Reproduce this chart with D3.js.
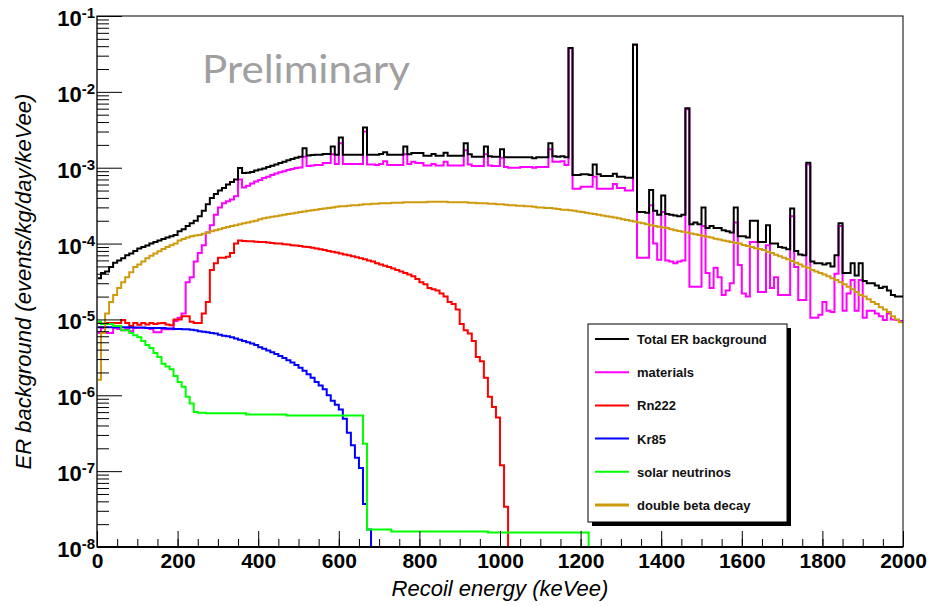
<!DOCTYPE html>
<html>
<head>
<meta charset="utf-8">
<script src="https://cdn.jsdelivr.net/npm/d3@7"></script>
<style>
body { margin: 0; background: #fff; }
text { font-family: "Liberation Sans", Arial, Helvetica, sans-serif; }
</style>
</head>
<body>
<svg id="chart" width="930" height="606"></svg>
<script>
// histogram binning (keVee)
var binWidth = 10;
var xMin = 0, xMax = 2000;
var yMin = 1e-8, yMax = 1e-1;

var seriesNames = ["Total ER background", "materials", "Rn222", "Kr85", "solar neutrinos", "double beta decay"];

// bin contents, events/kg/day/keVee, one value per 10 keV bin (missing bins = empty)
var totalER = [
 3.5e-5, 4.1e-5, 4.3e-5, 4.9e-5, 5.6e-5, 6.0e-5, 6.4e-5, 7.0e-5, 7.4e-5, 8.0e-5,
 8.6e-5, 9.0e-5, 9.4e-5, 1.0e-4, 1.05e-4, 1.1e-4, 1.15e-4, 1.2e-4, 1.25e-4, 1.3e-4,
 1.45e-4, 1.55e-4, 1.7e-4, 1.85e-4, 2.0e-4, 2.3e-4, 2.7e-4, 3.3e-4, 4.0e-4, 4.5e-4,
 5.0e-4, 5.4e-4, 6.0e-4, 6.5e-4, 7.0e-4, 9.9e-4, 8.5e-4, 8.6e-4, 8.8e-4, 9.2e-4,
 9.5e-4, 9.8e-4, 1.02e-3, 1.06e-3, 1.1e-3, 1.15e-3, 1.2e-3, 1.25e-3, 1.3e-3, 1.35e-3,
 1.4e-3, 1.8e-3, 1.45e-3, 1.47e-3, 1.48e-3, 1.48e-3, 1.52e-3, 1.52e-3, 1.9e-3, 1.48e-3,
 2.5e-3, 1.48e-3, 1.48e-3, 1.48e-3, 1.48e-3, 1.48e-3, 3.4e-3, 1.48e-3, 1.48e-3, 1.48e-3,
 1.52e-3, 1.6e-3, 1.48e-3, 1.48e-3, 1.48e-3, 1.48e-3, 1.9e-3, 1.5e-3, 1.56e-3, 1.56e-3,
 1.56e-3, 1.44e-3, 1.44e-3, 1.52e-3, 1.44e-3, 1.44e-3, 1.58e-3, 1.44e-3, 1.44e-3, 1.44e-3,
 1.44e-3, 2.1e-3, 1.5e-3, 1.4e-3, 1.4e-3, 1.4e-3, 1.9e-3, 1.42e-3, 1.4e-3, 1.4e-3,
 1.75e-3, 1.37e-3, 1.37e-3, 1.37e-3, 1.37e-3, 1.37e-3, 1.37e-3, 1.37e-3, 1.33e-3, 1.37e-3,
 1.37e-3, 1.37e-3, 2.1e-3, 1.42e-3, 1.4e-3, 1.42e-3, 1.37e-3, 3.8e-2, 8.0e-4, 8.0e-4,
 8.2e-4, 8.2e-4, 8.0e-4, 1.1e-3, 8.2e-4, 7.8e-4, 7.8e-4, 7.8e-4, 8.3e-4, 7.6e-4,
 7.6e-4, 7.4e-4, 7.4e-4, 4.2e-2, 2.6e-4, 2.6e-4, 2.55e-4, 5.1e-4, 2.7e-4, 2.4e-4,
 4.3e-4, 2.45e-4, 2.4e-4, 2.35e-4, 2.3e-4, 2.4e-4, 6.1e-3, 1.8e-4, 1.9e-4, 1.8e-4,
 3.0e-4, 1.6e-4, 1.7e-4, 1.6e-4, 1.6e-4, 1.5e-4, 1.45e-4, 1.4e-4, 3.0e-4, 1.25e-4,
 1.25e-4, 1.2e-4, 2.0e-4, 2.0e-4, 1.05e-4, 1.05e-4, 1.75e-4, 1.0e-4, 1.0e-4, 9.0e-5,
 8.8e-5, 8.4e-5, 2.9e-4, 8.0e-5, 7.2e-5, 7.0e-5, 1.16e-3, 5.8e-5, 5.5e-5, 5.5e-5,
 5.3e-5, 5.5e-5, 5.0e-5, 7.0e-5, 1.85e-4, 4.1e-5, 4.1e-5, 5.5e-5, 3.8e-5, 5.5e-5,
 3.2e-5, 3.0e-5, 3.0e-5, 2.8e-5, 2.6e-5, 2.7e-5, 2.4e-5, 2.1e-5, 2.0e-5, 2.0e-5
];

var materials = [
 6.6e-6, 7.7e-6, 6.6e-6, 6.6e-6, 7.7e-6, 7.5e-6, 7.2e-6, 7.5e-6, 7.0e-6, 7.7e-6,
 7.7e-6, 7.7e-6, 7.7e-6, 7.5e-6, 6.8e-6, 6.8e-6, 7.4e-6, 7.4e-6, 7.4e-6, 9.5e-6,
 1.05e-5, 1.2e-5, 3.1e-5, 3.6e-5, 5.8e-5, 7.5e-5, 9.5e-5, 1.4e-4, 1.75e-4, 2.4e-4,
 3.0e-4, 3.4e-4, 3.6e-4, 3.8e-4, 4.2e-4, 7.0e-4, 5.5e-4, 5.8e-4, 6.2e-4, 6.6e-4,
 6.9e-4, 7.3e-4, 7.6e-4, 8.0e-4, 8.4e-4, 8.7e-4, 9.0e-4, 9.3e-4, 9.6e-4, 9.9e-4,
 1.01e-3, 1.4e-3, 1.05e-3, 1.07e-3, 1.09e-3, 1.09e-3, 1.15e-3, 1.15e-3, 1.5e-3, 1.12e-3,
 2.1e-3, 1.12e-3, 1.12e-3, 1.12e-3, 1.12e-3, 1.12e-3, 3.0e-3, 1.1e-3, 1.1e-3, 1.09e-3,
 1.12e-3, 1.22e-3, 1.09e-3, 1.09e-3, 1.09e-3, 1.09e-3, 1.5e-3, 1.12e-3, 1.2e-3, 1.15e-3,
 1.15e-3, 1.07e-3, 1.07e-3, 1.12e-3, 1.07e-3, 1.07e-3, 1.2e-3, 1.07e-3, 1.07e-3, 1.07e-3,
 1.07e-3, 1.7e-3, 1.1e-3, 1.05e-3, 1.05e-3, 1.05e-3, 1.5e-3, 1.07e-3, 1.05e-3, 1.05e-3,
 1.35e-3, 1.02e-3, 1.0e-3, 1.0e-3, 1.0e-3, 1.02e-3, 1.02e-3, 1.02e-3, 1.0e-3, 1.02e-3,
 1.02e-3, 1.02e-3, 1.75e-3, 1.2e-3, 1.2e-3, 1.22e-3, 1.09e-3, 3.76e-2, 5.3e-4, 5.3e-4,
 5.6e-4, 5.6e-4, 5.6e-4, 7.6e-4, 5.3e-4, 5.3e-4, 5.3e-4, 5.3e-4, 6.1e-4, 5.4e-4,
 5.4e-4, 5.0e-4, 5.0e-4, 4.15e-2, 6.5e-5, 6.5e-5, 6.5e-5, 3.2e-4, 1.0e-4, 6.1e-5,
 2.6e-4, 6.0e-5, 5.8e-5, 5.5e-5, 5.8e-5, 6.0e-5, 5.9e-3, 2.7e-5, 2.7e-5, 2.7e-5,
 1.7e-4, 4.1e-5, 2.6e-5, 4.8e-5, 3.6e-5, 2.1e-5, 2.4e-5, 3.0e-5, 1.9e-4, 5.2e-5,
 2.2e-5, 2.0e-5, 1.05e-4, 1.05e-4, 2.3e-5, 2.3e-5, 9.5e-5, 2.6e-5, 3.6e-5, 2.1e-5,
 2.1e-5, 2.1e-5, 2.3e-4, 4.9e-5, 1.8e-5, 1.8e-5, 1.1e-3, 1.05e-5, 1.05e-5, 1.15e-5,
 1.7e-5, 1.3e-5, 1.25e-5, 4.0e-5, 1.7e-4, 1.3e-5, 2.2e-5, 3.3e-5, 1.3e-5, 3.3e-5,
 1.05e-5, 1.3e-5, 1.3e-5, 1.2e-5, 1.1e-5, 9.8e-6, 1.2e-5, 1.0e-5, 9.8e-6, 9.5e-6
];

var rn222 = [
 9.0e-6, 8.8e-6, 9.0e-6, 9.0e-6, 9.0e-6, 9.0e-6, 9.8e-6, 9.0e-6, 8.2e-6, 9.0e-6,
 8.5e-6, 9.0e-6, 8.6e-6, 9.0e-6, 8.7e-6, 8.9e-6, 9.0e-6, 8.6e-6, 8.4e-6, 1.0e-5,
 1.0e-5, 1.1e-5, 1.1e-5, 9.3e-6, 9.0e-6, 9.0e-6, 1.2e-5, 1.7e-5, 4.5e-5, 5.5e-5,
 6.5e-5, 6.5e-5, 6.7e-5, 7.5e-5, 1.0e-4, 1.1e-4, 1.08e-4, 1.07e-4, 1.07e-4, 1.06e-4,
 1.05e-4, 1.05e-4, 1.03e-4, 1.02e-4, 1.0e-4, 1.0e-4, 9.8e-5, 9.7e-5, 9.5e-5, 9.4e-5,
 9.3e-5, 9.1e-5, 9.0e-5, 8.8e-5, 8.6e-5, 8.4e-5, 8.2e-5, 8.0e-5, 7.8e-5, 7.6e-5,
 7.4e-5, 7.2e-5, 7.0e-5, 6.8e-5, 6.6e-5, 6.4e-5, 6.2e-5, 6.0e-5, 5.8e-5, 5.5e-5,
 5.3e-5, 5.1e-5, 4.9e-5, 4.7e-5, 4.5e-5, 4.3e-5, 4.1e-5, 3.9e-5, 3.7e-5, 3.4e-5,
 3.1e-5, 2.9e-5, 2.6e-5, 2.5e-5, 2.4e-5, 2.2e-5, 2.0e-5, 1.7e-5, 1.6e-5, 1.35e-5,
 8.7e-6, 7.2e-6, 6.5e-6, 5.2e-6, 3.2e-6, 2.8e-6, 1.7e-6, 9.6e-7, 7.0e-7, 5.1e-7,
 1.2e-7, 3.4e-8
];

var kr85 = [
 7.9e-6, 7.9e-6, 7.9e-6, 7.9e-6, 7.9e-6, 7.9e-6, 7.9e-6, 7.9e-6, 7.8e-6, 7.8e-6,
 7.8e-6, 7.8e-6, 7.7e-6, 7.7e-6, 7.7e-6, 7.7e-6, 7.7e-6, 7.6e-6, 7.6e-6, 7.5e-6,
 7.5e-6, 7.4e-6, 7.4e-6, 7.3e-6, 7.2e-6, 7.0e-6, 6.9e-6, 6.8e-6, 6.6e-6, 6.5e-6,
 6.3e-6, 6.1e-6, 6.0e-6, 5.8e-6, 5.6e-6, 5.4e-6, 5.2e-6, 5.0e-6, 4.8e-6, 4.6e-6,
 4.3e-6, 4.1e-6, 3.9e-6, 3.7e-6, 3.5e-6, 3.3e-6, 3.1e-6, 2.9e-6, 2.7e-6, 2.5e-6,
 2.3e-6, 2.1e-6, 1.9e-6, 1.7e-6, 1.5e-6, 1.35e-6, 1.2e-6, 1.0e-6, 8.5e-7, 7.5e-7,
 6.5e-7, 4.9e-7, 3.2e-7, 2.2e-7, 1.5e-7, 1.1e-7, 3.7e-8, 1.7e-8
];

var solarNu = [
 9.3e-6, 8.7e-6, 8.7e-6, 8.7e-6, 8.2e-6, 8.2e-6, 7.2e-6, 7.2e-6, 6.6e-6, 6.2e-6,
 5.8e-6, 5.2e-6, 4.6e-6, 4.2e-6, 3.6e-6, 3.2e-6, 2.6e-6, 2.4e-6, 2.2e-6, 1.8e-6,
 1.5e-6, 1.3e-6, 9.6e-7, 7.8e-7, 6.0e-7, 5.9e-7, 5.9e-7, 5.8e-7, 5.8e-7, 5.8e-7,
 5.8e-7, 5.8e-7, 5.8e-7, 5.8e-7, 5.8e-7, 5.8e-7, 5.8e-7, 5.6e-7, 5.6e-7, 5.6e-7,
 5.6e-7, 5.6e-7, 5.6e-7, 5.6e-7, 5.6e-7, 5.6e-7, 5.6e-7, 5.4e-7, 5.4e-7, 5.4e-7,
 5.4e-7, 5.4e-7, 5.4e-7, 5.4e-7, 5.4e-7, 5.4e-7, 5.4e-7, 5.4e-7, 5.4e-7, 5.4e-7,
 5.4e-7, 5.4e-7, 5.4e-7, 5.4e-7, 5.4e-7, 5.4e-7, 2.3e-7, 1.7e-8, 1.7e-8, 1.7e-8,
 1.7e-8, 1.7e-8, 1.7e-8, 1.6e-8, 1.6e-8, 1.6e-8, 1.6e-8, 1.6e-8, 1.6e-8, 1.6e-8,
 1.6e-8, 1.6e-8, 1.6e-8, 1.6e-8, 1.6e-8, 1.6e-8, 1.6e-8, 1.6e-8, 1.6e-8, 1.6e-8,
 1.6e-8, 1.6e-8, 1.6e-8, 1.6e-8, 1.6e-8, 1.6e-8, 1.6e-8, 1.55e-8, 1.55e-8, 1.55e-8,
 1.55e-8, 1.55e-8, 1.55e-8, 1.55e-8, 1.55e-8, 1.55e-8, 1.55e-8, 1.55e-8, 1.55e-8, 1.55e-8,
 1.55e-8, 1.55e-8, 1.55e-8, 1.55e-8, 1.55e-8, 1.55e-8, 1.55e-8, 1.55e-8, 1.55e-8, 1.55e-8,
 1.55e-8, 1.55e-8
];

var doubleBeta = [
 1.6e-6, 6.6e-6, 1.2e-5, 1.7e-5, 2.1e-5, 2.6e-5, 3.1e-5, 3.6e-5, 4.2e-5, 4.9e-5,
 5.3e-5, 5.8e-5, 6.4e-5, 6.9e-5, 7.4e-5, 7.9e-5, 8.5e-5, 9.0e-5, 9.5e-5, 1.0e-4,
 1.1e-4, 1.15e-4, 1.2e-4, 1.25e-4, 1.28e-4, 1.3e-4, 1.35e-4, 1.4e-4, 1.45e-4, 1.5e-4,
 1.55e-4, 1.6e-4, 1.65e-4, 1.7e-4, 1.75e-4, 1.8e-4, 1.85e-4, 1.9e-4, 1.95e-4, 2.0e-4,
 2.1e-4, 2.15e-4, 2.2e-4, 2.25e-4, 2.3e-4, 2.35e-4, 2.4e-4, 2.45e-4, 2.5e-4, 2.55e-4,
 2.6e-4, 2.65e-4, 2.7e-4, 2.75e-4, 2.8e-4, 2.85e-4, 2.9e-4, 2.95e-4, 3.0e-4, 3.05e-4,
 3.1e-4, 3.1e-4, 3.15e-4, 3.2e-4, 3.2e-4, 3.25e-4, 3.3e-4, 3.3e-4, 3.35e-4, 3.35e-4,
 3.4e-4, 3.4e-4, 3.4e-4, 3.45e-4, 3.45e-4, 3.45e-4, 3.5e-4, 3.5e-4, 3.5e-4, 3.5e-4,
 3.5e-4, 3.5e-4, 3.55e-4, 3.55e-4, 3.55e-4, 3.55e-4, 3.55e-4, 3.5e-4, 3.5e-4, 3.5e-4,
 3.5e-4, 3.5e-4, 3.45e-4, 3.45e-4, 3.4e-4, 3.4e-4, 3.4e-4, 3.35e-4, 3.35e-4, 3.3e-4,
 3.3e-4, 3.25e-4, 3.2e-4, 3.2e-4, 3.15e-4, 3.15e-4, 3.1e-4, 3.1e-4, 3.05e-4, 3.0e-4,
 3.0e-4, 2.95e-4, 2.95e-4, 2.9e-4, 2.85e-4, 2.8e-4, 2.8e-4, 2.75e-4, 2.7e-4, 2.65e-4,
 2.6e-4, 2.55e-4, 2.5e-4, 2.45e-4, 2.4e-4, 2.35e-4, 2.3e-4, 2.25e-4, 2.2e-4, 2.15e-4,
 2.1e-4, 2.05e-4, 2.0e-4, 1.95e-4, 1.9e-4, 1.85e-4, 1.8e-4, 1.75e-4, 1.7e-4, 1.67e-4,
 1.63e-4, 1.6e-4, 1.55e-4, 1.5e-4, 1.47e-4, 1.43e-4, 1.4e-4, 1.36e-4, 1.33e-4, 1.3e-4,
 1.26e-4, 1.23e-4, 1.2e-4, 1.16e-4, 1.13e-4, 1.1e-4, 1.07e-4, 1.05e-4, 1.02e-4, 1.0e-4,
 9.6e-5, 9.3e-5, 9.0e-5, 8.7e-5, 8.5e-5, 8.2e-5, 7.8e-5, 7.5e-5, 7.1e-5, 6.8e-5,
 6.5e-5, 6.2e-5, 5.9e-5, 5.6e-5, 5.3e-5, 5.0e-5, 4.8e-5, 4.5e-5, 4.3e-5, 4.1e-5,
 3.9e-5, 3.7e-5, 3.5e-5, 3.3e-5, 3.1e-5, 2.9e-5, 2.7e-5, 2.5e-5, 2.3e-5, 2.1e-5,
 2.0e-5, 1.85e-5, 1.7e-5, 1.6e-5, 1.45e-5, 1.35e-5, 1.25e-5, 1.1e-5, 1.0e-5, 9.2e-6
];

// tick values
var xMajorTicks = [0, 200, 400, 600, 800, 1000, 1200, 1400, 1600, 1800, 2000];
var yDecades = [-8, -7, -6, -5, -4, -3, -2, -1];

// frame (plotTop: "top" is taken by window.top)
var plotLeft = 97, plotRight = 903, plotTop = 16, plotBottom = 547;

var svg = d3.select("#chart");

var x = d3.scaleLinear().domain([xMin, xMax]).range([plotLeft, plotRight]);
var y = d3.scaleLog().domain([yMin, yMax]).range([plotBottom, plotTop]);

var nBins = (xMax - xMin) / binWidth;

// step line for a histogram, empty bins sit on the bottom of the frame
var histLine = d3.line()
	.x(function(d) { return x(d[0]); })
	.y(function(d) { return y(Math.max(d[1], yMin)); })
	.curve(d3.curveStepAfter);

function histPoints(vals) {
	var pts = [];
	for (var i = 0; i < nBins; i++) {
		pts.push([xMin + i * binWidth, vals[i] || 0]);
	}
	pts.push([xMax, vals[nBins - 1] || 0]);
	return pts;
}

svg.append("clipPath").attr("id", "plotclip")
	.append("rect").attr("x", plotLeft).attr("y", plotTop - 1)
	.attr("width", plotRight - plotLeft).attr("height", plotBottom - plotTop + 2);

// series, drawn in ROOT order so the total sits on top
var series = [
	{ name: seriesNames[1], vals: materials,  color: "#ff00ff" },
	{ name: seriesNames[2], vals: rn222,      color: "#ff0000" },
	{ name: seriesNames[3], vals: kr85,       color: "#0000ff" },
	{ name: seriesNames[4], vals: solarNu,    color: "#00ff00" },
	{ name: seriesNames[5], vals: doubleBeta, color: "#cf9b0e" },
	{ name: seriesNames[0], vals: totalER,    color: "#000000" }
];

var plot = svg.append("g").attr("clip-path", "url(#plotclip)");
plot.selectAll("path.hist")
	.data(series)
	.enter()
	.append("path")
	.attr("class", "hist")
	.attr("d", function(d) { return histLine(histPoints(d.vals)); })
	.attr("fill", "none")
	.attr("stroke", function(d) { return d.color; })
	.attr("stroke-width", 2)
	.attr("stroke-linejoin", "miter");

// frame
svg.append("rect")
	.attr("x", plotLeft).attr("y", plotTop)
	.attr("width", plotRight - plotLeft).attr("height", plotBottom - plotTop)
	.attr("fill", "none").attr("stroke", "#000").attr("stroke-width", 1);
svg.append("line")
	.attr("x1", plotLeft).attr("x2", plotLeft).attr("y1", plotTop).attr("y2", plotBottom)
	.attr("stroke", "#555").attr("stroke-width", 2);

// x axis: ticks point up into the frame
var xMinor = d3.range(xMin, xMax + 1, 50);
var xMinorAxis = d3.axisBottom(x).tickValues(xMinor).tickSize(-8).tickFormat("");
var xMajorAxis = d3.axisBottom(x).tickValues(xMajorTicks).tickSize(-16).tickPadding(6)
	.tickFormat(d3.format("d"));

svg.append("g").attr("transform", "translate(0," + plotBottom + ")").call(xMinorAxis)
	.call(function(g) { g.select(".domain").remove(); });
var gx = svg.append("g").attr("transform", "translate(0," + plotBottom + ")").call(xMajorAxis);
gx.select(".domain").remove();
gx.selectAll("text")
	.attr("fill", "#000")
	.style("font-family", "'Liberation Sans', Arial, sans-serif")
	.style("font-size", "21px")
	.style("font-weight", "bold");
svg.append("line")
	.attr("x1", plotLeft).attr("x2", plotRight).attr("y1", plotBottom).attr("y2", plotBottom)
	.attr("stroke", "#000").attr("stroke-width", 2);

// y axis: log ticks point right into the frame
var yMajor = yDecades.map(function(e) { return Math.pow(10, e); });
var yMinor = [];
yDecades.slice(0, -1).forEach(function(e) {
	for (var k = 2; k <= 9; k++) yMinor.push(k * Math.pow(10, e));
});

svg.append("g").attr("transform", "translate(" + plotLeft + ",0)")
	.call(d3.axisLeft(y).tickValues(yMinor).tickSize(-12).tickFormat(""))
	.call(function(g) { g.select(".domain").remove(); });
svg.append("g").attr("transform", "translate(" + plotLeft + ",0)")
	.call(d3.axisLeft(y).tickValues(yMajor).tickSize(-25).tickFormat(""))
	.call(function(g) { g.select(".domain").remove(); });

// 10^n labels
var yLab = svg.append("g").selectAll("text")
	.data(yDecades)
	.enter()
	.append("text")
	.attr("x", 95)
	.attr("y", function(d) { return y(Math.pow(10, d)) + 10; })
	.attr("text-anchor", "end")
	.style("font-size", "22px")
	.style("font-weight", "bold");
yLab.append("tspan").text("10");
yLab.append("tspan")
	.attr("dy", -8)
	.style("font-size", "15px")
	.text(function(d) { return "-" + Math.abs(d); });

// axis titles
svg.append("text")
	.attr("x", (plotLeft + plotRight) / 2).attr("y", 596)
	.attr("text-anchor", "middle")
	.style("font-size", "22px").style("font-style", "italic")
	.text("Recoil energy (keVee)");

svg.append("text")
	.attr("transform", "translate(31," + ((plotTop + plotBottom) / 2) + ") rotate(-90)")
	.attr("text-anchor", "middle")
	.style("font-size", "22px").style("font-style", "italic")
	.text("ER background (events/kg/day/keVee)");

// watermark
svg.append("text")
	.attr("x", 202).attr("y", 83)
	.attr("textLength", 208).attr("lengthAdjust", "spacingAndGlyphs")
	.style("font-family", "Lato, 'Open Sans', sans-serif")
	.style("font-size", "38px")
	.attr("fill", "#a0a0a0")
	.text("Preliminary");

// legend
var legX = 588, legY = 324, legW = 199, legH = 198;
svg.append("rect")
	.attr("x", legX + 4).attr("y", legY + 4).attr("width", legW).attr("height", legH)
	.attr("fill", "#000");
svg.append("rect")
	.attr("x", legX).attr("y", legY).attr("width", legW).attr("height", legH)
	.attr("fill", "#fff").attr("stroke", "#000").attr("stroke-width", 1);

var legendItems = [series[5], series[0], series[1], series[2], series[3], series[4]];
var leg = svg.append("g").selectAll("g")
	.data(legendItems)
	.enter()
	.append("g")
	.attr("transform", function(d, i) { return "translate(" + legX + "," + (legY + 15 + i * 33.2) + ")"; });
leg.append("line")
	.attr("x1", 7).attr("x2", 41).attr("y1", 0).attr("y2", 0)
	.attr("stroke", function(d) { return d.color; })
	.attr("stroke-width", function(d, i) { return i === 5 ? 3 : 2; });
leg.append("text")
	.attr("x", 49).attr("y", 5)
	.style("font-size", "13px").style("font-weight", "bold")
	.attr("fill", "#111")
	.text(function(d) { return d.name; });
</script>
</body>
</html>
